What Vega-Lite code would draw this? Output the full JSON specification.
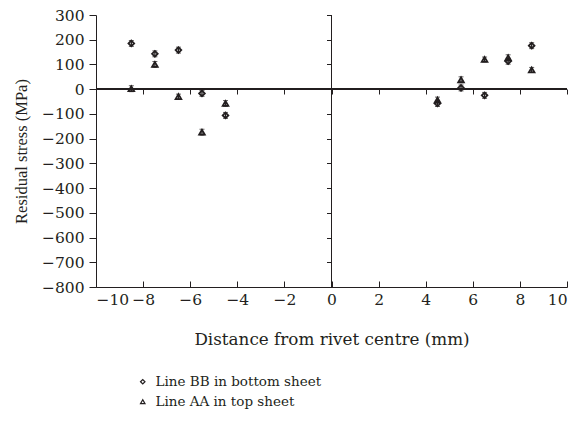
{
  "$schema": "https://vega.github.io/schema/vega-lite/v6.json",
  "width": 471,
  "height": 272,
  "autosize": {"type": "none"},
  "padding": {"left": 96, "top": 15, "right": 10, "bottom": 136},
  "background": "white",
  "config": {
    "view": {"stroke": null},
    "font": "DejaVu Serif",
    "axis": {
      "labelFont": "DejaVu Serif",
      "titleFont": "DejaVu Serif",
      "labelColor": "#231f20",
      "titleColor": "#231f20",
      "domainColor": "#231f20",
      "tickColor": "#231f20",
      "labelFontSize": 15.5,
      "titleFontSize": 16.8,
      "titleFontWeight": "normal",
      "grid": false
    },
    "legend": {
      "labelFont": "DejaVu Serif",
      "labelFontSize": 13.5,
      "labelColor": "#231f20",
      "labelLimit": 400
    }
  },
  "data": {
    "values": [
      {"x": -8.5, "stress": 185, "err": 12, "series": "Line BB in bottom sheet"},
      {"x": -7.5, "stress": 143, "err": 12, "series": "Line BB in bottom sheet"},
      {"x": -6.5, "stress": 158, "err": 12, "series": "Line BB in bottom sheet"},
      {"x": -5.5, "stress": -17, "err": 12, "series": "Line BB in bottom sheet"},
      {"x": -4.5, "stress": -106, "err": 12, "series": "Line BB in bottom sheet"},
      {"x": 4.5, "stress": -58, "err": 12, "series": "Line BB in bottom sheet"},
      {"x": 5.5, "stress": 5, "err": 12, "series": "Line BB in bottom sheet"},
      {"x": 6.5, "stress": -25, "err": 12, "series": "Line BB in bottom sheet"},
      {"x": 7.5, "stress": 113, "err": 12, "series": "Line BB in bottom sheet"},
      {"x": 8.5, "stress": 176, "err": 12, "series": "Line BB in bottom sheet"},
      {"x": -8.5, "stress": 2, "err": 12, "series": "Line AA in top sheet"},
      {"x": -7.5, "stress": 100, "err": 12, "series": "Line AA in top sheet"},
      {"x": -6.5, "stress": -30, "err": 10, "series": "Line AA in top sheet"},
      {"x": -5.5, "stress": -174, "err": 12, "series": "Line AA in top sheet"},
      {"x": -4.5, "stress": -58, "err": 12, "series": "Line AA in top sheet"},
      {"x": 4.5, "stress": -44, "err": 12, "series": "Line AA in top sheet"},
      {"x": 5.5, "stress": 38, "err": 12, "series": "Line AA in top sheet"},
      {"x": 6.5, "stress": 120, "err": 10, "series": "Line AA in top sheet"},
      {"x": 7.5, "stress": 127, "err": 12, "series": "Line AA in top sheet"},
      {"x": 8.5, "stress": 78, "err": 10, "series": "Line AA in top sheet"}
    ]
  },
  "transform": [
    {"calculate": "datum.stress - datum.err", "as": "lo"},
    {"calculate": "datum.stress + datum.err", "as": "hi"}
  ],
  "resolve": {"axis": {"x": "independent", "y": "independent"}},
  "layer": [
    {
      "mark": {"type": "rule", "color": "#231f20", "strokeWidth": 1},
      "encoding": {
        "y": {"datum": 0, "type": "quantitative", "scale": {"domain": [-800, 300], "nice": false}, "axis": null}
      }
    },
    {
      "mark": {"type": "rule", "color": "#231f20", "strokeWidth": 1},
      "encoding": {
        "x": {"datum": 0, "type": "quantitative", "scale": {"domain": [-10, 10], "nice": false}, "axis": null}
      }
    },
    {
      "mark": {"type": "point", "filled": false, "size": 32, "strokeWidth": 1.8, "color": "#231f20", "opacity": 1},
      "encoding": {
        "x": {
          "field": "x", "type": "quantitative",
          "axis": {"orient": "bottom", "title": "Distance from rivet centre (mm)", "values": [-10, -8, -6, -4, -2, 0, 2, 4, 6, 8, 10], "tickSize": -6, "labelPadding": 11, "titlePadding": 24}
        },
        "y": {
          "field": "stress", "type": "quantitative",
          "axis": {"orient": "left", "title": "Residual stress (MPa)", "titleFont": "Liberation Serif", "titleFontSize": 16.5, "values": [-800, -700, -600, -500, -400, -300, -200, -100, 0, 100, 200, 300], "tickSize": 7, "labelPadding": 5, "titlePadding": 12}
        },
        "shape": {
          "field": "series", "type": "nominal",
          "scale": {"domain": ["Line BB in bottom sheet", "Line AA in top sheet"], "range": ["diamond", "triangle-up"]},
          "legend": {"title": null, "orient": "none", "legendX": 40, "legendY": 360, "symbolSize": 20, "symbolStrokeWidth": 1.2, "symbolStrokeColor": "#231f20", "symbolFillColor": "white", "rowPadding": 5, "labelOffset": 6}
        }
      }
    },
    {
      "mark": {"type": "errorbar", "ticks": {"size": 5, "color": "#231f20", "strokeWidth": 1.3}, "rule": {"color": "#231f20", "strokeWidth": 1.3}},
      "encoding": {
        "x": {
          "field": "x", "type": "quantitative",
          "axis": {"orient": "bottom", "offset": -198, "domain": false, "labels": false, "title": null, "values": [-10, -8, -6, -4, -2, 0, 2, 4, 6, 8, 10], "tickSize": 5}
        },
        "y": {
          "field": "lo", "type": "quantitative",
          "axis": {"orient": "left", "offset": -235.5, "domain": false, "labels": false, "title": null, "values": [-800, -700, -600, -500, -400, -300, -200, -100, 0, 100, 200, 300], "tickSize": 5}
        },
        "y2": {"field": "hi"}
      }
    }
  ]
}
